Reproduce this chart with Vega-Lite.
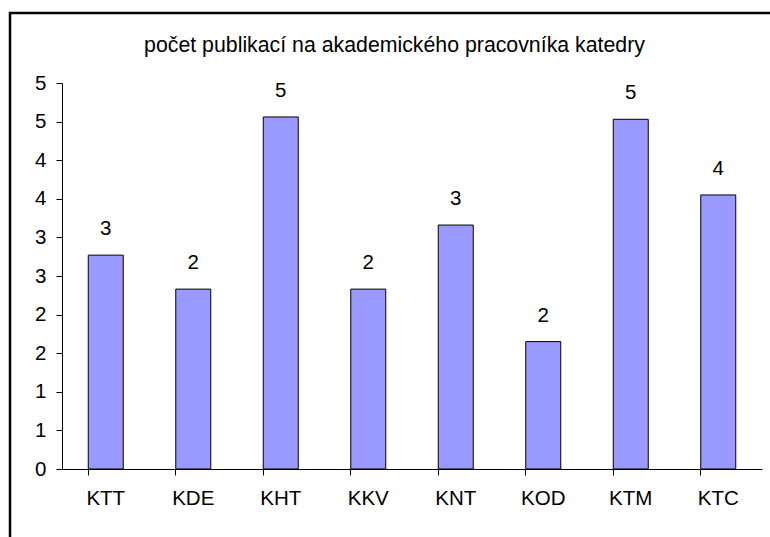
{
  "$schema": "https://vega.github.io/schema/vega-lite/v6.json",
  "width": 769,
  "height": 540,
  "autosize": "none",
  "padding": {"left": 10, "top": 13, "right": 0, "bottom": 0},
  "background": "white",
  "config": {
    "view": {"stroke": "black", "strokeWidth": 2.5, "fill": "white"},
    "font": "Liberation Sans",
    "axis": {
      "grid": false,
      "domainColor": "black",
      "domainWidth": 1,
      "tickColor": "black",
      "tickWidth": 1,
      "labelColor": "black",
      "labelFont": "Liberation Sans",
      "labelFontSize": 20.5,
      "title": null
    }
  },
  "title": {
    "text": "počet publikací na akademického pracovníka katedry",
    "font": "Liberation Sans",
    "fontSize": 21.3,
    "fontWeight": "normal",
    "color": "black",
    "anchor": "middle",
    "frame": "group",
    "baseline": "alphabetic",
    "offset": -60
  },
  "data": {
    "values": [
      {"katedra": "KTT", "pocet": 2.77},
      {"katedra": "KDE", "pocet": 2.33},
      {"katedra": "KHT", "pocet": 4.56},
      {"katedra": "KKV", "pocet": 2.33},
      {"katedra": "KNT", "pocet": 3.16},
      {"katedra": "KOD", "pocet": 1.65},
      {"katedra": "KTM", "pocet": 4.53},
      {"katedra": "KTC", "pocet": 3.55}
    ]
  },
  "layer": [
    {
      "mark": {"type": "bar", "fill": "#9999FF", "stroke": "black", "strokeWidth": 1},
      "encoding": {
        "x": {
          "field": "katedra",
          "type": "nominal",
          "sort": null,
          "scale": {"type": "band", "range": [52, 752], "paddingInner": 0.6, "paddingOuter": 0.3},
          "axis": {"orient": "bottom", "offset": -84, "ticks": false, "labelPadding": 19, "labelAngle": 0}
        },
        "y": {
          "field": "pocet",
          "type": "quantitative",
          "scale": {"domain": [0, 5], "range": [456, 70], "nice": false, "zero": true},
          "axis": {
            "orient": "left",
            "offset": -52,
            "values": [0, 0.5, 1, 1.5, 2, 2.5, 3, 3.5, 4, 4.5, 5],
            "labelExpr": "round(datum.value)",
            "tickSize": 6,
            "labelPadding": 10
          }
        }
      }
    },
    {
      "mark": {"type": "text", "font": "Liberation Sans", "fontSize": 20.5, "color": "black", "baseline": "alphabetic", "dy": -20},
      "encoding": {
        "x": {
          "field": "katedra",
          "type": "nominal",
          "sort": null,
          "axis": {"orient": "bottom", "offset": -84, "labels": false, "domain": false, "ticks": true, "tickSize": 6, "bandPosition": 0}
        },
        "y": {"field": "pocet", "type": "quantitative"},
        "text": {"field": "pocet", "type": "quantitative", "format": ".0f"}
      }
    }
  ],
  "resolve": {"axis": {"x": "independent"}}
}
